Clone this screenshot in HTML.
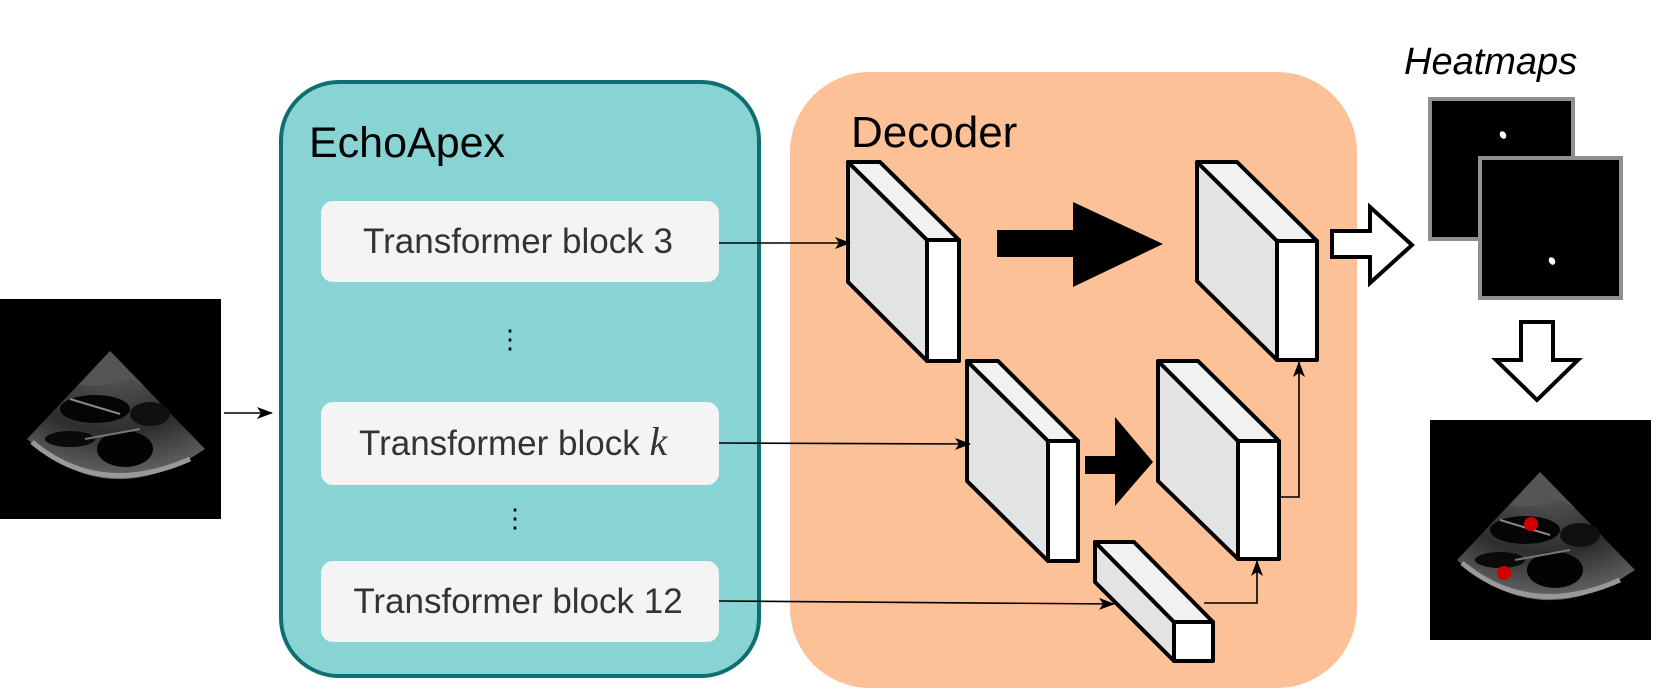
<!DOCTYPE html>
<html><head><meta charset="utf-8"><style>
html,body{margin:0;padding:0;background:#fff;}
svg{display:block;}
text{font-family:"Liberation Sans",sans-serif;}
</style></head><body>
<svg width="1661" height="693" viewBox="0 0 1661 693" xmlns="http://www.w3.org/2000/svg">
<defs>
  <marker id="ah" markerWidth="16" markerHeight="12" refX="15" refY="6" orient="auto" markerUnits="userSpaceOnUse">
    <path d="M0,0 L16,6 L0,12 L4,6 Z" fill="#000"/>
  </marker>
  <radialGradient id="fg" cx="0.5" cy="0.1" r="0.9">
    <stop offset="0" stop-color="#5a5a5a"/>
    <stop offset="0.6" stop-color="#2e2e2e"/>
    <stop offset="1" stop-color="#666"/>
  </radialGradient>
  <g id="us">
    <rect x="0" y="0" width="221" height="220" fill="#000"/>
    <path d="M110,52 L27,140 Q110,215 205,150 Z" fill="url(#fg)"/>
    <path d="M110,52 L80,85 Q100,90 130,80 L145,88 Z" fill="#555"/>
    <ellipse cx="95" cy="110" rx="35" ry="14" fill="#050505"/>
    <ellipse cx="125" cy="150" rx="28" ry="18" fill="#030303"/>
    <ellipse cx="70" cy="140" rx="25" ry="8" fill="#0a0a0a"/>
    <ellipse cx="150" cy="115" rx="20" ry="12" fill="#101010"/>
    <path d="M32,143 Q100,200 190,160" stroke="#999" stroke-width="5" fill="none"/>
    <path d="M70,100 L120,115" stroke="#888" stroke-width="2"/>
    <path d="M85,140 L140,130" stroke="#777" stroke-width="2"/>
  </g>
</defs>

<!-- Input image -->
<use href="#us" x="0" y="299"/>
<line x1="224" y1="413" x2="272" y2="413" stroke="#000" stroke-width="1.6" marker-end="url(#ah)"/>

<!-- EchoApex -->
<rect x="281" y="82" width="478" height="594" rx="58" fill="#88d3d3" stroke="#0e6f73" stroke-width="4"/>
<text x="309" y="157" font-size="43" fill="#000">EchoApex</text>
<rect x="321" y="201" width="398" height="81" rx="12" fill="#f4f4f4"/>
<text x="518" y="253" font-size="35" fill="#333" text-anchor="middle">Transformer block 3</text>
<text x="510" y="348" font-size="26" fill="#000" text-anchor="middle">⋮</text>
<rect x="321" y="402" width="398" height="83" rx="12" fill="#f4f4f4"/>
<text x="359" y="455" font-size="35" fill="#333">Transformer block <tspan font-family="Liberation Serif" font-style="italic" font-size="40">k</tspan></text>
<text x="515" y="527" font-size="26" fill="#000" text-anchor="middle">⋮</text>
<rect x="321" y="561" width="398" height="81" rx="12" fill="#f4f4f4"/>
<text x="518" y="613" font-size="35" fill="#333" text-anchor="middle">Transformer block 12</text>

<!-- Decoder -->
<rect x="790" y="72" width="567" height="616" rx="80" fill="#fdc197"/>
<text x="851" y="147" font-size="44" fill="#000">Decoder</text>

<g stroke="#000" stroke-width="4" stroke-linejoin="round">
  <polygon points="848,162 927,240 927,361 848,282" fill="#e3e3e3"/>
  <polygon points="848,162 880,162 959,240 927,240" fill="#f1f1f1"/>
  <rect x="927" y="240" width="32" height="121" fill="#fff"/>
  <polygon points="1197,162 1277,241 1277,360 1197,281" fill="#e3e3e3"/>
  <polygon points="1197,162 1237,162 1317,241 1277,241" fill="#f1f1f1"/>
  <rect x="1277" y="241" width="40" height="119" fill="#fff"/>
  <polygon points="967,361 1048,441 1048,561 967,481" fill="#e3e3e3"/>
  <polygon points="967,361 998,361 1078,441 1048,441" fill="#f1f1f1"/>
  <rect x="1048" y="441" width="30" height="120" fill="#fff"/>
  <polygon points="1158,361 1238,441 1238,559 1158,481" fill="#e3e3e3"/>
  <polygon points="1158,361 1198,361 1279,441 1238,441" fill="#f1f1f1"/>
  <rect x="1238" y="441" width="41" height="118" fill="#fff"/>
  <polygon points="1095,542 1174,622 1174,661 1095,582" fill="#e3e3e3"/>
  <polygon points="1095,542 1134,542 1213,622 1174,622" fill="#f1f1f1"/>
  <rect x="1174" y="622" width="39" height="39" fill="#fff"/>
</g>

<polygon points="997,230 1073,230 1073,202 1163,244 1073,287 1073,257 997,257" fill="#000"/>
<polygon points="1085,456 1115,456 1115,417 1153,462 1115,506 1115,474 1085,474" fill="#000"/>

<line x1="719" y1="243" x2="850" y2="243" stroke="#000" stroke-width="1.6" marker-end="url(#ah)"/>
<line x1="719" y1="443" x2="970" y2="444" stroke="#000" stroke-width="1.6" marker-end="url(#ah)"/>
<line x1="719" y1="601" x2="1114" y2="604" stroke="#000" stroke-width="1.6" marker-end="url(#ah)"/>
<polyline points="1204,603 1257,603 1257,561" fill="none" stroke="#000" stroke-width="1.6" marker-end="url(#ah)"/>
<polyline points="1280,497 1299,497 1299,362" fill="none" stroke="#000" stroke-width="1.6" marker-end="url(#ah)"/>

<polygon points="1332,231 1370,231 1370,207 1412,245 1370,283 1370,257 1332,257" fill="#fff" stroke="#000" stroke-width="4"/>

<text x="1404" y="74" font-size="38" font-style="italic" fill="#000">Heatmaps</text>
<rect x="1430" y="99" width="143" height="140" fill="#000" stroke="#909090" stroke-width="4"/>
<ellipse cx="1503" cy="135" rx="3" ry="4" fill="#fff" transform="rotate(-30 1503 135)"/>
<rect x="1480" y="158" width="141" height="140" fill="#000" stroke="#909090" stroke-width="4"/>
<ellipse cx="1552" cy="261" rx="3" ry="4" fill="#fff" transform="rotate(-30 1552 261)"/>

<polygon points="1521,322 1553,322 1553,360 1578,360 1537,400 1496,360 1521,360" fill="#fff" stroke="#000" stroke-width="4"/>

<use href="#us" x="1430" y="420"/>
<circle cx="1531" cy="524" r="7" fill="#d00000"/>
<circle cx="1504" cy="573" r="7" fill="#d00000"/>
</svg>
</body></html>
